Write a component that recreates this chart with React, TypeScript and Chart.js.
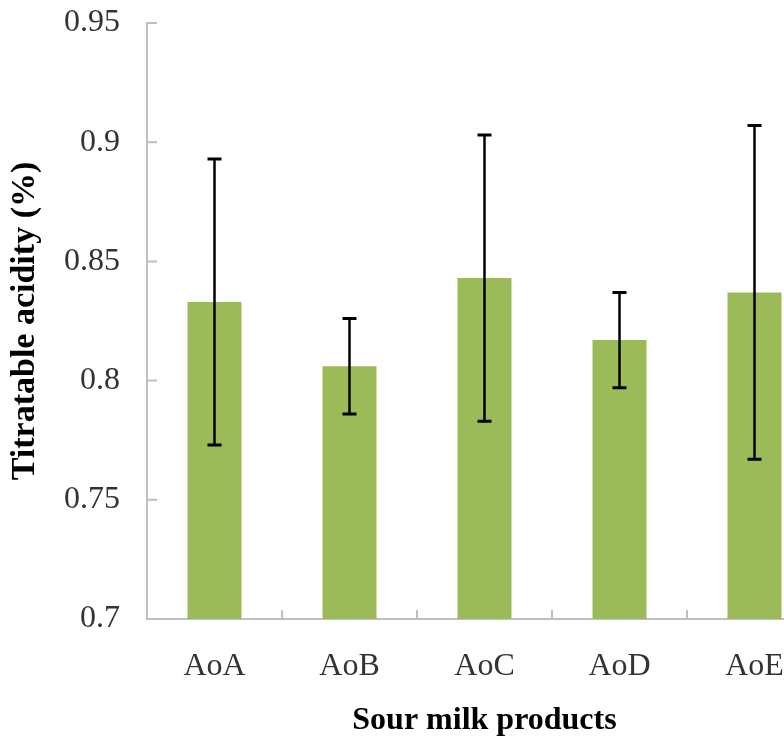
import React, { useEffect, useRef } from "react";
import { Chart, registerables } from "chart.js";

Chart.register(...registerables);

const categories = ["AoA", "AoB", "AoC", "AoD", "AoE"];
const acidity = [0.833, 0.806, 0.843, 0.817, 0.837];
const errors = [0.06, 0.02, 0.06, 0.02, 0.07];
const yTicks = [0.7, 0.75, 0.8, 0.85, 0.9, 0.95];

const AXIS_COLOR = "#BFBFBF";
const TEXT_COLOR = "#333333";
const FONT = "'Liberation Serif', 'Times New Roman', serif";

const errorBarPlugin = {
  id: "errorBars",
  afterDatasetsDraw(chart: any) {
    const ctx = chart.ctx;
    const y = chart.scales.y;
    const meta = chart.getDatasetMeta(0);
    ctx.save();
    ctx.strokeStyle = "#000000";
    ctx.lineCap = "butt";
    meta.data.forEach((bar: any, i: number) => {
      const v = acidity[i];
      const e = errors[i];
      const top = y.getPixelForValue(v + e);
      const bot = y.getPixelForValue(v - e);
      const x = bar.x;
      ctx.lineWidth = 2.5;
      ctx.beginPath();
      ctx.moveTo(x, top);
      ctx.lineTo(x, bot);
      ctx.stroke();
      ctx.lineWidth = 3;
      ctx.beginPath();
      ctx.moveTo(x - 7, top);
      ctx.lineTo(x + 7, top);
      ctx.moveTo(x - 7, bot);
      ctx.lineTo(x + 7, bot);
      ctx.stroke();
    });
    ctx.restore();
  },
};

const innerTicksPlugin = {
  id: "innerTicks",
  afterDraw(chart: any) {
    const ctx = chart.ctx;
    const { left, right, bottom } = chart.chartArea;
    const y = chart.scales.y;
    ctx.save();
    ctx.strokeStyle = AXIS_COLOR;
    ctx.lineWidth = 2;
    ctx.beginPath();
    yTicks.forEach((t) => {
      const py = y.getPixelForValue(t);
      ctx.moveTo(left, py);
      ctx.lineTo(left + 10, py);
    });
    const n = categories.length;
    for (let i = 1; i <= n; i++) {
      const px = left + ((right - left) * i) / n;
      ctx.moveTo(px, bottom);
      ctx.lineTo(px, bottom - 9);
    }
    ctx.stroke();
    ctx.restore();
  },
};

export default function App() {
  const ref = useRef<HTMLCanvasElement>(null);

  useEffect(() => {
    if (!ref.current) return;
    const chart = new Chart(ref.current, {
      type: "bar",
      data: {
        labels: categories,
        datasets: [
          {
            data: acidity,
            backgroundColor: "#9BBB59",
            borderWidth: 0,
            barPercentage: 0.4,
            categoryPercentage: 1,
          },
        ],
      },
      options: {
        animation: false,
        responsive: false,
        layout: { padding: { top: 23, right: 8, bottom: 0, left: 0 } },
        plugins: {
          legend: { display: false },
          tooltip: { enabled: false },
        },
        scales: {
          x: {
            grid: { display: false, drawTicks: false },
            border: { display: true, color: AXIS_COLOR, width: 2 },
            ticks: {
              color: TEXT_COLOR,
              font: { family: FONT, size: 32 },
              padding: 28,
              maxRotation: 0,
              autoSkip: false,
            },
            title: {
              display: true,
              text: "Sour milk products",
              color: "#000000",
              font: { family: FONT, size: 32, weight: "bold", lineHeight: 1 },
              padding: { top: 0, bottom: 1 },
            },
            afterFit(scale: any) {
              scale.height = 119;
              scale.paddingLeft = 0;
              scale.paddingRight = 0;
            },
          },
          y: {
            min: 0.7,
            max: 0.95,
            grid: { display: false, drawTicks: false },
            border: { display: true, color: AXIS_COLOR, width: 2 },
            afterBuildTicks(scale: any) {
              scale.ticks = yTicks.map((v) => ({ value: v }));
            },
            ticks: {
              color: TEXT_COLOR,
              font: { family: FONT, size: 32 },
              padding: 27,
              callback: (v: any) => String(parseFloat(Number(v).toFixed(2))),
            },
            title: {
              display: true,
              text: "Titratable acidity (%)",
              color: "#000000",
              font: { family: FONT, size: 34, weight: "bold", lineHeight: 1 },
              padding: { top: 8, bottom: 0 },
            },
            afterFit(scale: any) {
              scale.width = 147;
              scale.paddingTop = 0;
              scale.paddingBottom = 0;
            },
          },
        },
      },
      plugins: [errorBarPlugin, innerTicksPlugin],
    });
    return () => chart.destroy();
  }, []);

  return (
    <div
      style={{
        position: "fixed",
        left: 0,
        top: 0,
        width: 784,
        height: 738,
        overflow: "hidden",
        background: "#ffffff",
      }}
    >
      <canvas ref={ref} width={830} height={738} style={{ width: 830, height: 738, display: "block" }} />
    </div>
  );
}
